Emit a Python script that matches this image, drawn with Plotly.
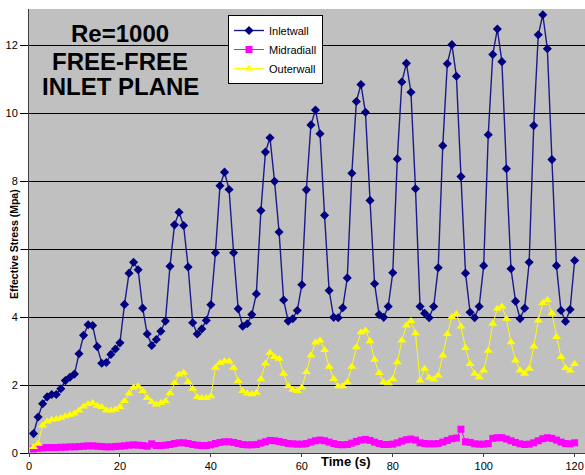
import plotly.graph_objects as go

# ---------------- data ----------------
time_s = list(range(1, 121))

inletwall = [
    0.57, 1.06, 1.45, 1.65, 1.72, 1.72, 1.89, 2.13, 2.23, 2.32,
    2.92, 3.46, 3.77, 3.75, 3.13, 2.64, 2.66, 2.90, 3.06, 3.24,
    4.37, 5.29, 5.61, 5.39, 4.26, 3.50, 3.16, 3.34, 3.58, 3.88,
    5.49, 6.71, 7.08, 6.69, 5.47, 3.83, 3.50, 3.65, 3.90, 4.36,
    5.89, 7.86, 8.26, 7.75, 5.89, 4.24, 3.73, 3.80, 4.07, 4.68,
    7.13, 8.85, 9.27, 7.99, 6.50, 4.50, 3.88, 3.95, 4.19, 4.95,
    7.74, 9.65, 10.09, 9.39, 6.99, 4.78, 3.99, 3.98, 4.27, 5.15,
    8.23, 10.34, 10.84, 10.02, 7.43, 4.98, 4.07, 3.99, 4.31, 5.30,
    8.65, 10.91, 11.46, 10.61, 7.77, 4.31, 4.11, 3.98, 4.31, 5.45,
    9.04, 11.45, 12.01, 11.08, 8.13, 5.29, 4.14, 3.98, 4.31, 5.51,
    9.36, 11.72, 12.47, 11.51, 8.36, 5.42, 4.46, 3.95, 4.26, 5.61,
    9.63, 12.30, 12.89, 11.89, 8.63, 5.51, 4.19, 3.87, 4.22, 5.66,
]

midradiall = [
    0.12, 0.14, 0.15, 0.16, 0.16, 0.16, 0.17, 0.17, 0.18, 0.18,
    0.19, 0.20, 0.21, 0.21, 0.20, 0.19, 0.18, 0.18, 0.19, 0.20,
    0.21, 0.23, 0.24, 0.23, 0.22, 0.20, 0.27, 0.22, 0.22, 0.23,
    0.25, 0.28, 0.30, 0.30, 0.28, 0.25, 0.23, 0.22, 0.22, 0.24,
    0.28, 0.31, 0.33, 0.33, 0.31, 0.28, 0.25, 0.24, 0.24, 0.25,
    0.29, 0.33, 0.37, 0.36, 0.34, 0.31, 0.28, 0.27, 0.26, 0.26,
    0.28, 0.32, 0.36, 0.38, 0.36, 0.32, 0.28, 0.25, 0.24, 0.25,
    0.29, 0.34, 0.38, 0.40, 0.37, 0.32, 0.28, 0.25, 0.25, 0.26,
    0.30, 0.35, 0.39, 0.41, 0.38, 0.30, 0.28, 0.27, 0.27, 0.28,
    0.32, 0.37, 0.42, 0.44, 0.70, 0.33, 0.31, 0.27, 0.26, 0.26,
    0.28, 0.43, 0.45, 0.45, 0.41, 0.36, 0.31, 0.27, 0.25, 0.26,
    0.30, 0.36, 0.42, 0.45, 0.43, 0.38, 0.32, 0.28, 0.27, 0.30,
]

outerwall = [
    0.18, 0.27, 0.81, 0.93, 0.98, 1.00, 1.03, 1.08, 1.12, 1.16,
    1.25, 1.37, 1.44, 1.47, 1.39, 1.35, 1.26, 1.25, 1.28, 1.35,
    1.53, 1.75, 1.93, 1.96, 1.82, 1.62, 1.50, 1.43, 1.47, 1.52,
    1.76, 2.06, 2.31, 2.36, 2.09, 1.89, 1.65, 1.62, 1.62, 1.67,
    2.51, 2.65, 2.70, 2.70, 2.51, 2.12, 1.82, 1.75, 1.73, 1.77,
    2.17, 2.63, 2.95, 2.82, 2.77, 2.33, 1.97, 1.86, 1.82, 1.93,
    2.38, 2.87, 3.25, 3.31, 3.03, 2.54, 2.18, 1.96, 1.96, 2.08,
    2.54, 3.11, 3.55, 3.60, 3.29, 2.74, 2.35, 2.08, 2.05, 2.18,
    2.67, 3.31, 3.75, 3.88, 3.52, 2.13, 2.48, 2.21, 2.16, 2.28,
    2.87, 3.50, 4.00, 4.09, 3.72, 3.09, 2.62, 2.33, 2.23, 2.43,
    3.01, 3.80, 4.24, 4.31, 3.95, 3.26, 2.72, 2.43, 2.33, 2.48,
    3.13, 3.90, 4.41, 4.50, 4.11, 3.41, 2.82, 2.50, 2.43, 2.62,
]

x_ticks = [0, 20, 40, 60, 80, 100, 120]
y_ticks = [0, 2, 4, 6, 8, 10, 12]
title_lines = ["Re=1000", "FREE-FREE", "INLET PLANE"]

# ---------------- layout geometry ----------------
W, H = 585, 475
PL, PR, PT, PB = 29, 0, 9, 22
PW, PH = W - PL - PR, H - PT - PB


def px(x):
    return (x - PL) / PW


def py(y):
    return (PT + PH - y) / PH


fig = go.Figure()

fig.add_trace(go.Scatter(
    x=time_s, y=inletwall, name="Inletwall", mode="lines+markers",
    line=dict(color="#1a1a8a", width=1.4),
    marker=dict(symbol="diamond", size=7, color="#000080"),
))
fig.add_trace(go.Scatter(
    x=time_s, y=midradiall, name="Midradiall", mode="lines+markers",
    line=dict(color="#FF00FF", width=1),
    marker=dict(symbol="square", size=7, color="#FF00FF"),
))
fig.add_trace(go.Scatter(
    x=time_s, y=outerwall, name="Outerwall", mode="lines+markers",
    line=dict(color="#FFFF00", width=1),
    marker=dict(symbol="triangle-up", size=8, color="#FFFF00"),
))

annotations = []
for txt, yy in zip(title_lines, [34, 61, 87]):
    annotations.append(dict(
        text="<b>%s</b>" % txt, xref="paper", yref="paper",
        x=px(120), y=py(yy), xanchor="center", yanchor="middle",
        showarrow=False,
        font=dict(family="Liberation Sans, Arial", size=24, color="black"),
    ))
annotations.append(dict(
    text="<b>Time (s)</b>", xref="paper", yref="paper",
    x=px(346), y=py(461), xanchor="center", yanchor="middle",
    showarrow=False,
    font=dict(family="Liberation Sans, Arial", size=13, color="black"),
))
annotations.append(dict(
    text="<b>Effective Stress (Mpa)</b>", xref="paper", yref="paper",
    x=px(14), y=py(244), xanchor="center", yanchor="middle",
    showarrow=False, textangle=-90, bgcolor="white", borderpad=0,
    font=dict(family="Liberation Sans, Arial", size=10.5, color="black"),
))

fig.update_layout(
    width=W, height=H,
    margin=dict(l=PL, r=PR, t=PT, b=PB, pad=0),
    paper_bgcolor="white", plot_bgcolor="#C0C0C0",
    font=dict(family="Liberation Sans, Arial", size=11, color="black"),
    showlegend=True,
    legend=dict(
        x=px(228), y=py(15), xanchor="left", yanchor="top",
        bgcolor="white", bordercolor="black", borderwidth=1,
        font=dict(family="Liberation Sans, Arial", size=11, color="black"),
        tracegroupgap=0, itemwidth=30,
    ),
    annotations=annotations,
)

fig.update_xaxes(
    range=[0, PW / 4.547], tickvals=x_ticks, ticktext=[str(v) for v in x_ticks],
    showgrid=False, zeroline=False,
    showline=True, linecolor="#404040", linewidth=1,
    ticks="outside", ticklen=3, tickcolor="#404040",
    tickfont=dict(family="Liberation Sans, Arial", size=11, color="black"),
)
fig.update_yaxes(
    range=[0, PH / 34.0], tickvals=y_ticks, ticktext=[str(v) for v in y_ticks],
    showgrid=True, gridcolor="black", gridwidth=1, zeroline=False,
    showline=True, linecolor="#404040", linewidth=1,
    ticks="outside", ticklen=8, tickcolor="black",
    tickfont=dict(family="Liberation Sans, Arial", size=11, color="black"),
)

fig.write_html(
    "out.html",
    config={"displayModeBar": False},
    post_script="document.body.style.margin='0';document.body.style.overflow='hidden';",
)
